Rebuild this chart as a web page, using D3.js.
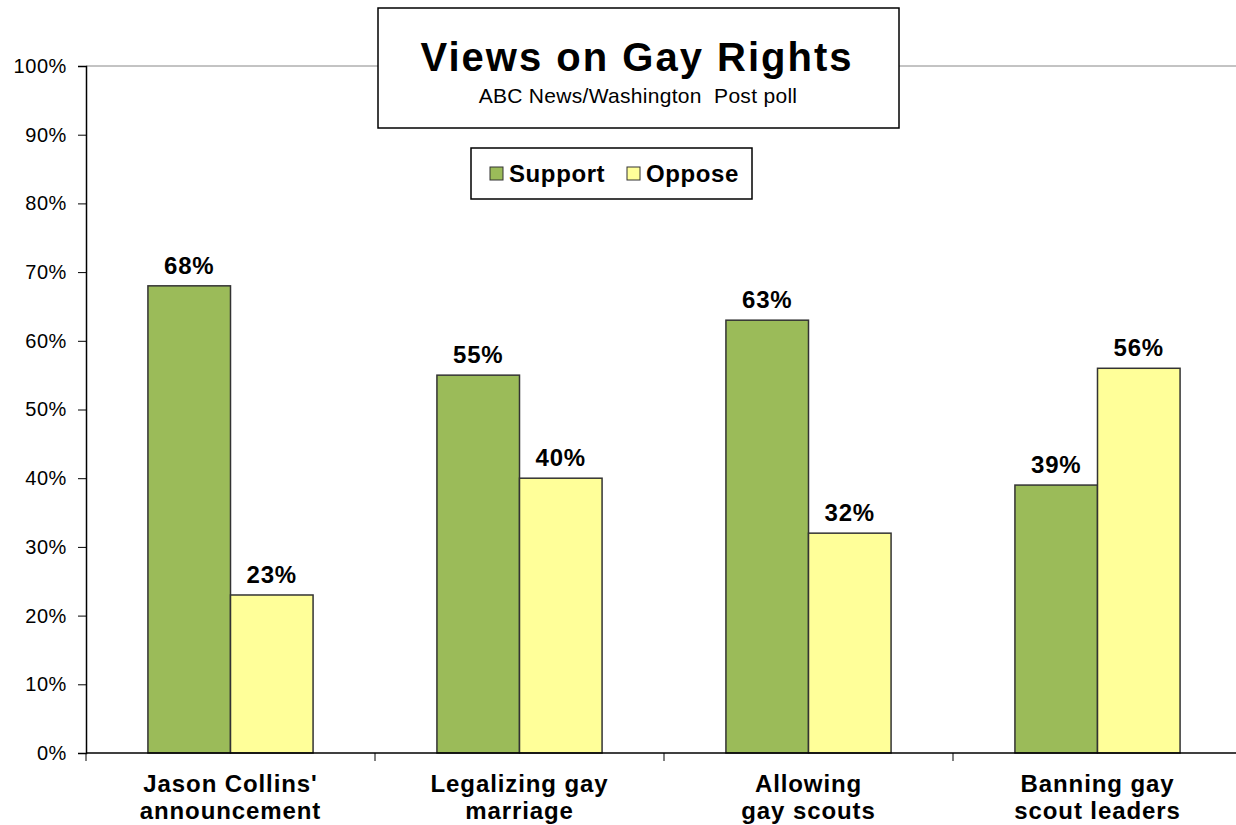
<!DOCTYPE html>
<html>
<head>
<meta charset="utf-8">
<script src="https://cdn.jsdelivr.net/npm/d3@7"></script>
<style>
  body { margin: 0; background: #fff; }
  text { font-family: Arial, "Liberation Sans", sans-serif; }
</style>
</head>
<body>
<script>
// chart data
const categories = [["Jason Collins'", "announcement"], ["Legalizing gay", "marriage"], ["Allowing", "gay scouts"], ["Banning gay", "scout leaders"]]
const series = ['Support', 'Oppose']
const support = [68, 55, 63, 39]
const oppose = [23, 40, 32, 56]
const yTicks = [0, 10, 20, 30, 40, 50, 60, 70, 80, 90, 100]
const colors = ['#9BBB59', '#FFFF99']

const width = 1236
const height = 825
const plotLeft = 86, plotRight = 1242, plotTop = 66, plotBottom = 753

const svg = d3.select('body').append('svg')
  .attr('width', width)
  .attr('height', height)

const x = d3.scaleBand()
  .domain(d3.range(categories.length))
  .range([plotLeft, plotRight])
  .paddingInner(0)
  .paddingOuter(0)

const inner = d3.scaleBand()
  .domain(series)
  .range([0, x.bandwidth()])
  .paddingInner(0)
  .paddingOuter(0.75)

const y = d3.scaleLinear().domain([0, 100]).range([plotBottom, plotTop])

// top line at 100%
svg.append('line')
  .attr('x1', plotLeft).attr('x2', width)
  .attr('y1', y(100)).attr('y2', y(100))
  .attr('stroke', '#888').attr('stroke-width', 1)

// y axis
const yAxis = svg.append('g')
  .attr('transform', `translate(${plotLeft},0)`)
  .call(d3.axisLeft(y).tickValues(yTicks).tickSize(8).tickPadding(11).tickFormat(d => d + '%'))
yAxis.select('.domain').attr('stroke', '#000').attr('stroke-width', 1.5)
yAxis.selectAll('.tick line').attr('stroke', '#000')
yAxis.selectAll('.tick text')
  .attr('font-size', 20).attr('fill', '#000')
  .attr('letter-spacing', 0.6)
  .attr('font-family', 'Arial, "Liberation Sans", sans-serif')

const groups = svg.append('g').selectAll('g')
  .data(categories.map((c, i) => ({ i, vals: [support[i], oppose[i]] })))
  .join('g')
  .attr('transform', d => `translate(${x(d.i)},0)`)

groups.selectAll('rect')
  .data(d => d.vals.map((v, k) => ({ k, v })))
  .join('rect')
  .attr('x', d => inner(series[d.k]))
  .attr('width', inner.bandwidth())
  .attr('y', d => y(d.v))
  .attr('height', d => y(0) - y(d.v))
  .attr('fill', d => colors[d.k])
  .attr('stroke', '#333')
  .attr('stroke-width', 1.5)

groups.selectAll('text.val')
  .data(d => d.vals.map((v, k) => ({ k, v })))
  .join('text')
  .attr('class', 'val')
  .attr('x', d => inner(series[d.k]) + inner.bandwidth() / 2)
  .attr('y', d => y(d.v) - 12)
  .attr('text-anchor', 'middle')
  .attr('font-size', 24)
  .attr('letter-spacing', 0.8)
  .attr('font-weight', 'bold')
  .text(d => d.v + '%')

// x axis baseline and ticks
svg.append('line')
  .attr('x1', plotLeft).attr('x2', width)
  .attr('y1', plotBottom).attr('y2', plotBottom)
  .attr('stroke', '#000').attr('stroke-width', 1.5)

svg.append('g').selectAll('line')
  .data(d3.range(categories.length + 1).filter(i => plotLeft + i * x.bandwidth() <= width))
  .join('line')
  .attr('x1', i => plotLeft + i * x.bandwidth())
  .attr('x2', i => plotLeft + i * x.bandwidth())
  .attr('y1', plotBottom).attr('y2', plotBottom + 8)
  .attr('stroke', '#000')

const catText = svg.append('g').selectAll('text')
  .data(categories)
  .join('text')
  .attr('x', (d, i) => x(i) + x.bandwidth() / 2)
  .attr('y', 792)
  .attr('text-anchor', 'middle')
  .attr('font-size', 24)
  .attr('letter-spacing', 0.9)
  .attr('font-weight', 'bold')
catText.selectAll('tspan')
  .data(d => d)
  .join('tspan')
  .attr('x', function () { return this.parentNode.getAttribute('x') })
  .attr('dy', (d, i) => i === 0 ? 0 : 27)
  .text(d => d)

// title box
svg.append('rect')
  .attr('x', 378).attr('y', 8).attr('width', 521).attr('height', 120)
  .attr('fill', '#fff').attr('stroke', '#000').attr('stroke-width', 1.5)
svg.append('text')
  .attr('x', 637).attr('y', 71)
  .attr('text-anchor', 'middle')
  .attr('font-size', 40).attr('font-weight', 'bold')
  .attr('letter-spacing', 2)
  .text('Views on Gay Rights')
svg.append('text')
  .attr('x', 638).attr('y', 103)
  .attr('text-anchor', 'middle')
  .attr('font-size', 21)
  .attr('letter-spacing', 0.3)
  .style('white-space', 'pre')
  .text('ABC News/Washington  Post poll')

// legend
svg.append('rect')
  .attr('x', 471).attr('y', 148).attr('width', 281).attr('height', 51)
  .attr('fill', '#fff').attr('stroke', '#000').attr('stroke-width', 1.5)
const legend = svg.append('g')
const legendX = [490, 627]
series.forEach((s, k) => {
  legend.append('rect')
    .attr('x', legendX[k]).attr('y', 167).attr('width', 13).attr('height', 13)
    .attr('fill', colors[k]).attr('stroke', '#333')
  legend.append('text')
    .attr('x', legendX[k] + 19).attr('y', 182)
    .attr('font-size', 24).attr('font-weight', 'bold')
    .attr('letter-spacing', 0.6)
    .text(s)
})
</script>
</body>
</html>
